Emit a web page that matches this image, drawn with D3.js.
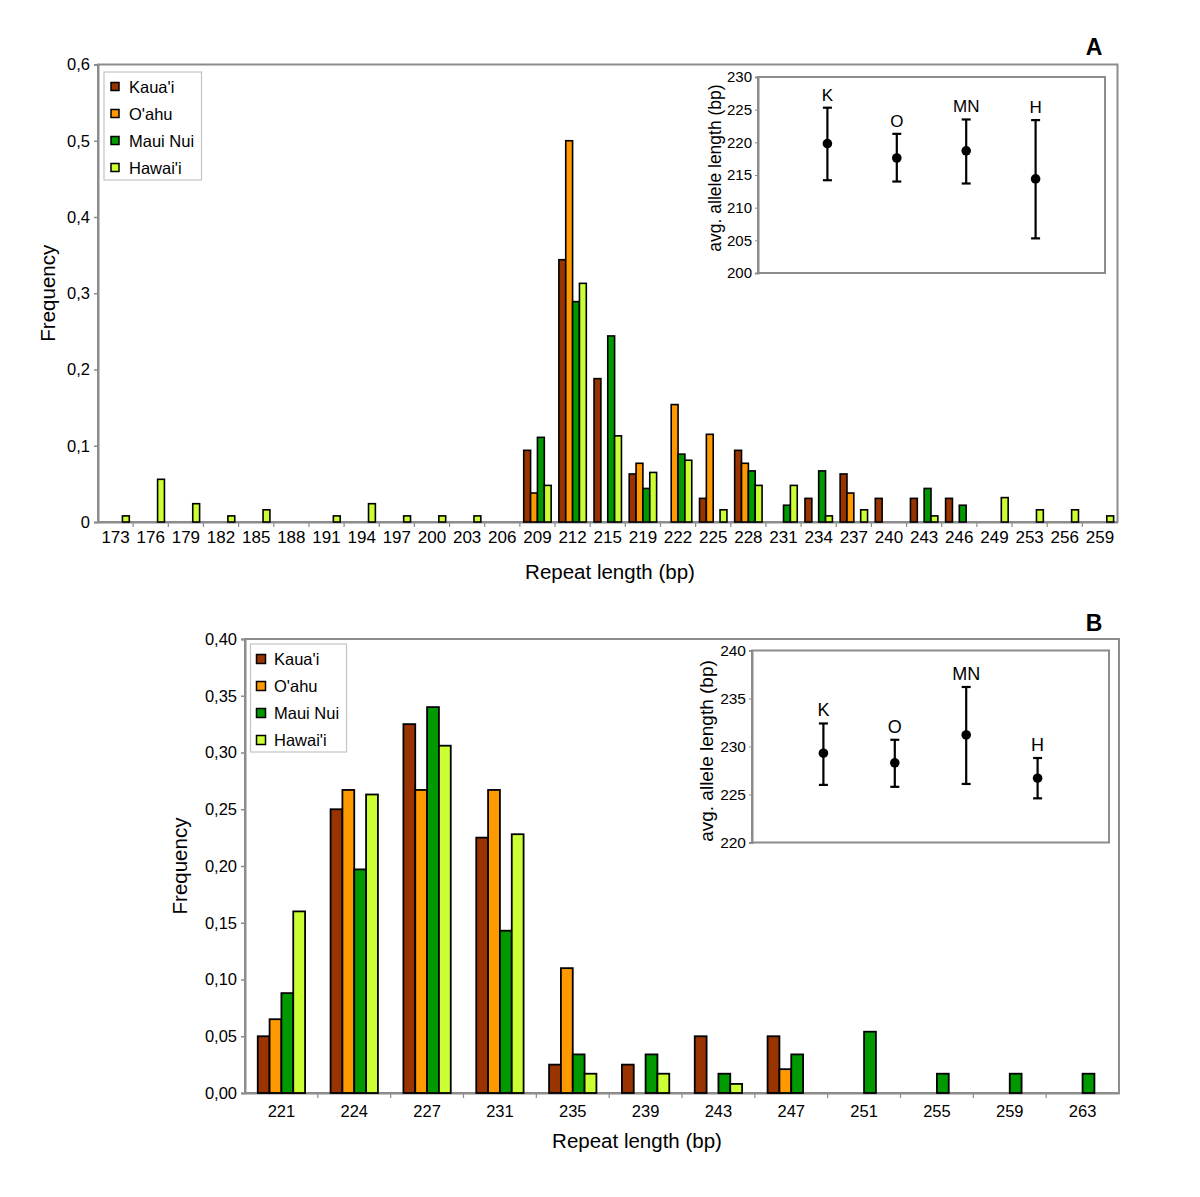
<!DOCTYPE html>
<html><head><meta charset="utf-8">
<script src="https://cdn.jsdelivr.net/npm/d3@7"></script>
<style>
html,body{margin:0;padding:0;background:#fff;}
svg{display:block;font-family:"Liberation Sans",Arial,sans-serif;}
</style></head>
<body>
<svg id="chart" width="1200" height="1197"></svg>
<script>
// ---------- DATA ----------
const seriesNames = ["Kaua'i", "O'ahu", "Maui Nui", "Hawai'i"];
const seriesColors = ["#993300", "#FF9900", "#009900", "#CCFF33"];

const catsA = ["173","176","179","182","185","188","191","194","197","200","203","206","209","212","215","219","222","225","228","231","234","237","240","243","246","249","253","256","259"];
const kauaiA  = [0,0,0,0,0,0,0,0,0,0,0,0, 0.094,0.344,0.188,0.063,0,0.031,0.094,0,0.031,0.063,0.031,0.031,0.031,0,0,0,0];
const oahuA   = [0,0,0,0,0,0,0,0,0,0,0,0, 0.038,0.500,0,0.077,0.154,0.115,0.077,0,0,0.038,0,0,0,0,0,0,0];
const mauiA   = [0,0,0,0,0,0,0,0,0,0,0,0, 0.111,0.289,0.244,0.044,0.089,0,0.067,0.022,0.067,0,0,0.044,0.022,0,0,0,0];
const hawaiiA = [0.008,0.056,0.024,0.008,0.016,0,0.008,0.024,0.008,0.008,0.008,0, 0.048,0.313,0.113,0.065,0.081,0.016,0.048,0.048,0.008,0.016,0,0.008,0,0.032,0.016,0.016,0.008];
const yTicksA = [0,0.1,0.2,0.3,0.4,0.5,0.6];
const yTickLabelsA = ["0","0,1","0,2","0,3","0,4","0,5","0,6"];

const catsB = ["221","224","227","231","235","239","243","247","251","255","259","263"];
const kauaiB  = [0.050,0.250,0.325,0.225,0.025,0.025,0.050,0.050,0,0,0,0];
const oahuB   = [0.065,0.267,0.267,0.267,0.110,0,0,0.021,0,0,0,0];
const mauiB   = [0.088,0.197,0.340,0.143,0.034,0.034,0.017,0.034,0.054,0.017,0.017,0.017];
const hawaiiB = [0.160,0.263,0.306,0.228,0.017,0.017,0.008,0,0,0,0,0];
const yTicksB = [0,0.05,0.10,0.15,0.20,0.25,0.30,0.35,0.40];
const yTickLabelsB = ["0,00","0,05","0,10","0,15","0,20","0,25","0,30","0,35","0,40"];

const islandCodes = ["K","O","MN","H"];
const meanA = [219.8,217.6,218.7,214.4];
const lowA  = [214.2,214.0,213.7,205.3];
const highA = [225.3,221.3,223.5,223.4];
const insetTicksA = [200,205,210,215,220,225,230];
const meanB = [229.3,228.3,231.2,226.7];
const lowB  = [226.0,225.8,226.1,224.6];
const highB = [232.4,230.7,236.2,228.8];
const insetTicksB = [220,225,230,235,240];

// ---------- DRAW ----------
const svg = d3.select("#chart");
const GREY = "#8c8c8c";
const FF = "Liberation Sans, Arial, sans-serif";

function barPanel(cfg){
  const g = svg.append("g");
  const {x0,x1,y0,y1,cats,series,yMax,ticks,tickLabels,pad,fs} = cfg;
  const x = d3.scaleBand().domain(cats).range([x0,x1]).paddingInner(pad).paddingOuter(pad/2);
  const xs = d3.scaleBand().domain(d3.range(4)).range([0,x.bandwidth()]);
  const y = d3.scaleLinear().domain([0,yMax]).range([y1,y0]);
  const xb = d3.scaleLinear().domain([0,cats.length]).range([x0,x1]);

  g.append("rect").attr("x",x0).attr("y",y0).attr("width",x1-x0).attr("height",y1-y0)
    .attr("fill","none").attr("stroke",GREY).attr("stroke-width",2);

  const ya = d3.axisLeft(y).tickValues(ticks).tickFormat((d,i)=>tickLabels[i]).tickSize(4).tickPadding(4);
  const yg = g.append("g").attr("transform",`translate(${x0},0)`).call(ya);
  yg.select(".domain").attr("stroke",GREY).attr("stroke-width",2);
  yg.selectAll(".tick line").attr("stroke",GREY).attr("stroke-width",1.5);
  yg.selectAll("text").attr("font-size",16.5).attr("fill","#000").attr("font-family",FF);

  const xa = d3.axisBottom(x).tickSize(0).tickPadding(cfg.xLabPad);
  const xg = g.append("g").attr("transform",`translate(0,${y1})`).call(xa);
  xg.select(".domain").attr("stroke",GREY).attr("stroke-width",2);
  xg.selectAll("text").attr("font-size",fs).attr("fill","#000").attr("font-family",FF);
  g.append("g").selectAll("line").data(d3.range(1,cats.length)).join("line")
    .attr("x1",d=>xb(d)).attr("x2",d=>xb(d)).attr("y1",y1).attr("y2",y1+5)
    .attr("stroke",GREY).attr("stroke-width",1.2);

  const flat = [];
  cats.forEach((c,i)=>series.forEach((s,k)=>{ if(s[i]>0) flat.push({c,k,v:s[i]}); }));
  g.append("g").selectAll("rect").data(flat).join("rect")
    .attr("x",d=>x(d.c)+xs(d.k)).attr("width",xs.bandwidth())
    .attr("y",d=>y(d.v)).attr("height",d=>y(0)-y(d.v))
    .attr("fill",d=>seriesColors[d.k]).attr("stroke","#000").attr("stroke-width",cfg.bsw);

  g.append("text").attr("x",cfg.ytX).attr("y",(y0+y1)/2).attr("transform",`rotate(-90,${cfg.ytX},${(y0+y1)/2})`)
    .attr("text-anchor","middle").attr("dominant-baseline","central").attr("font-size",20.5).text("Frequency");
  g.append("text").attr("x",cfg.xtX).attr("y",cfg.xtY).attr("text-anchor","middle").attr("font-size",20.5).text("Repeat length (bp)");

  const L = cfg.leg;
  g.append("rect").attr("x",L.x).attr("y",L.y).attr("width",L.w).attr("height",L.h)
    .attr("fill","#fff").attr("stroke","#c4c4c4").attr("stroke-width",1.2);
  seriesNames.forEach((n,k)=>{
    const cy = L.y + L.first + k*L.step;
    g.append("rect").attr("x",L.x+L.sx).attr("y",cy-L.ss/2).attr("width",L.ss).attr("height",L.ss)
      .attr("fill",seriesColors[k]).attr("stroke","#000").attr("stroke-width",1.5);
    g.append("text").attr("x",L.x+L.tx).attr("y",cy).attr("dominant-baseline","central")
      .attr("font-size",16.5).text(n);
  });

  g.append("text").attr("x",1094).attr("y",cfg.letterY).attr("text-anchor","middle")
    .attr("font-size",23).attr("font-weight","bold").text(cfg.letter);
}

function inset(cfg){
  const g = svg.append("g");
  const {x0,x1,y0,y1,dom,ticks,mean,low,high} = cfg;
  const x = d3.scaleLinear().domain([0,5]).range([x0,x1]);
  const y = d3.scaleLinear().domain(dom).range([y1,y0]);
  g.append("rect").attr("x",x0).attr("y",y0).attr("width",x1-x0).attr("height",y1-y0)
    .attr("fill","#fff").attr("stroke",GREY).attr("stroke-width",2);
  const ya = d3.axisLeft(y).tickValues(ticks).tickSize(3).tickPadding(3);
  const yg = g.append("g").attr("transform",`translate(${x0},0)`).call(ya);
  yg.select(".domain").attr("stroke",GREY).attr("stroke-width",2);
  yg.selectAll(".tick line").attr("stroke",GREY);
  yg.selectAll("text").attr("font-size",cfg.tfs).attr("fill","#000").attr("font-family",FF);
  g.append("text").attr("x",cfg.titleX).attr("y",cfg.titleY).attr("transform",`rotate(-90,${cfg.titleX},${cfg.titleY})`)
    .attr("text-anchor","middle").attr("dominant-baseline","central").attr("font-size",cfg.titleFs).text("avg. allele length (bp)");
  islandCodes.forEach((c,i)=>{
    const cx = x(i+1);
    g.append("line").attr("x1",cx).attr("x2",cx).attr("y1",y(low[i])).attr("y2",y(high[i])).attr("stroke","#000").attr("stroke-width",2.2);
    [low[i],high[i]].forEach(v=>g.append("line").attr("x1",cx-4.5).attr("x2",cx+4.5).attr("y1",y(v)).attr("y2",y(v)).attr("stroke","#000").attr("stroke-width",2.2));
    g.append("circle").attr("cx",cx).attr("cy",y(mean[i])).attr("r",4.8).attr("fill","#000");
    g.append("text").attr("x",cx).attr("y",y(high[i])-7).attr("text-anchor","middle").attr("font-size",cfg.labFs).text(c);
  });
}

barPanel({x0:98,x1:1117.5,y0:64.5,y1:522,cats:catsA,series:[kauaiA,oahuA,mauiA,hawaiiA],yMax:0.6,
  ticks:yTicksA,tickLabels:yTickLabelsA,pad:0.22,fs:17,xLabPad:9,bsw:1.6,
  ytX:47,xtX:610,xtY:579,
  leg:{x:104,y:72,w:97.5,h:108,first:14.5,step:27,sx:7,ss:8,tx:25},
  letter:"A",letterY:55});

barPanel({x0:245,x1:1119,y0:639,y1:1093,cats:catsB,series:[kauaiB,oahuB,mauiB,hawaiiB],yMax:0.40,
  ticks:yTicksB,tickLabels:yTickLabelsB,pad:0.35,fs:16.5,xLabPad:12,bsw:1.8,
  ytX:179,xtX:637,xtY:1148,
  leg:{x:250.5,y:644,w:96,h:108,first:15,step:27,sx:6,ss:9,tx:23.5},
  letter:"B",letterY:631});

inset({x0:758,x1:1105,y0:77,y1:273,dom:[200,230],ticks:insetTicksA,mean:meanA,low:lowA,high:highA,tfs:15,titleX:715,titleY:168,titleFs:17.5,labFs:17});
inset({x0:752,x1:1109,y0:650.5,y1:842.5,dom:[220,240],ticks:insetTicksB,mean:meanB,low:lowB,high:highB,tfs:15.5,titleX:706,titleY:751,titleFs:19,labFs:18});
</script>
</body></html>
